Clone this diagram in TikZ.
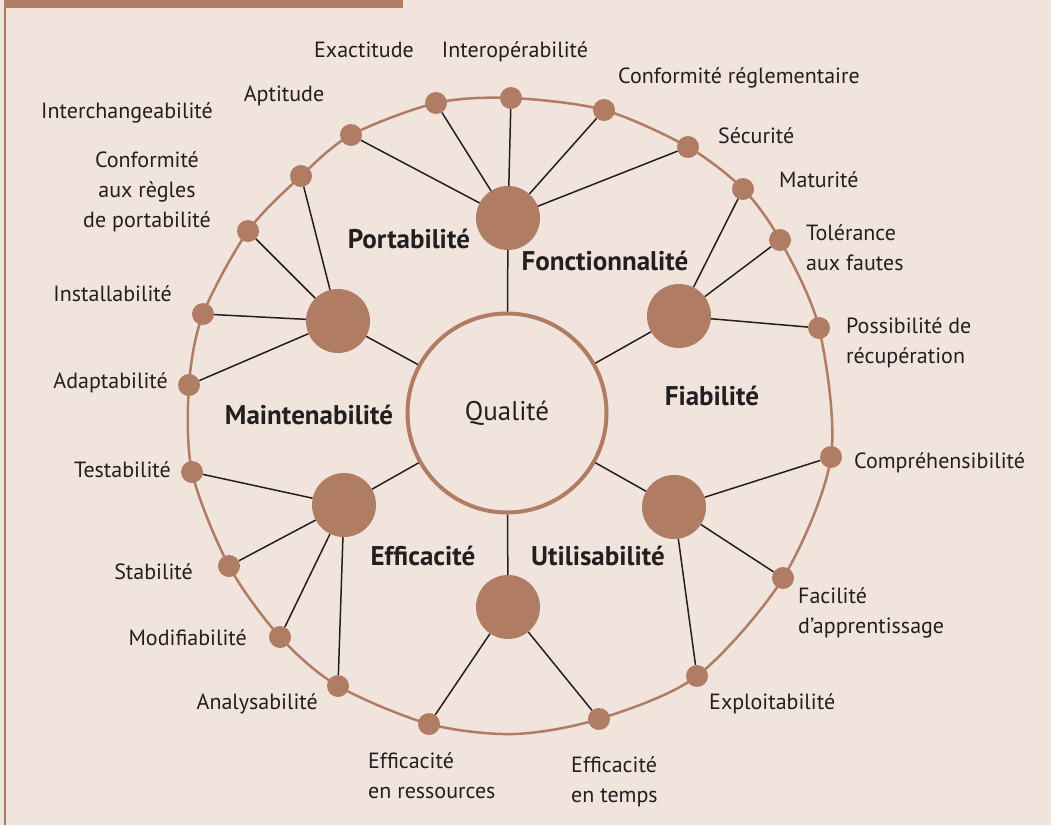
\documentclass[tikz,border=0pt]{standalone}
\usepackage{fontspec}
\setmainfont{PT Sans}
\definecolor{fond}{RGB}{241,228,221}
\definecolor{brun}{RGB}{176,124,99}
\definecolor{encre}{RGB}{35,31,32}

\begin{document}
\begin{tikzpicture}[x=1pt,y=-1pt,
	pastille/.style={circle,fill=brun,minimum size=22pt,inner sep=0pt},
	noyau/.style={circle,fill=brun,minimum size=64pt,inner sep=0pt},
	lien/.style={line width=1.5pt,color=encre},
	etiq/.style={text=encre,inner sep=0pt,font=\fontsize{22}{30}\selectfont},
	axe/.style={text=encre,inner sep=0pt,font=\fontsize{27}{30}\selectfont\bfseries}]
	%%%%% START %%%%%
	
	\useasboundingbox (0,0) rectangle (1051,825);
	\fill[fond] (0,0) rectangle (1051,825);
	\fill[brun] (5,0) rectangle (403,8);
	\draw[brun,line width=2pt] (5,0) -- (5,825);
	
	% points on the ring, clockwise from the top
	\foreach \n/\x/\y in {interop/511/98, confreg/604/110, secu/688/147, matur/743/189,
		toler/780/240, recup/819/328, compr/831/457, facil/783/578, exploit/697/676,
		temps/599/719, ress/429/724, analys/338/686, modif/280/637, stabil/229/566,
		testab/192/472, adapt/189/385, install/203/314, confport/248/231,
		interch/301/176, aptit/351/135, exact/436/103}
		\coordinate (\n) at (\x,\y);
	\coordinate (bas) at (514,734);
	
	\draw[brun,line width=2.5pt] plot[smooth cycle] coordinates {(interop) (confreg) (secu)
		(matur) (toler) (recup) (compr) (facil) (exploit) (temps) (bas) (ress) (analys) (modif)
		(stabil) (testab) (adapt) (install) (confport) (interch) (aptit) (exact)};
	
	\foreach \n in {interop,confreg,secu,matur,toler,recup,compr,facil,exploit,temps,
		ress,analys,modif,stabil,testab,adapt,install,confport,interch,aptit,exact}
		\node[pastille] (d-\n) at (\n) {};
	
	% the six characteristics
	\node[noyau] (fonc) at (508,218) {};
	\node[noyau] (fiab) at (679,316) {};
	\node[noyau] (util) at (674,507) {};
	\node[noyau] (effic) at (508,607) {};
	\node[noyau] (maint) at (344,505) {};
	\node[noyau] (port) at (338,321) {};
	
	\node[circle,draw=brun,line width=4pt,fill=fond,minimum size=199pt,inner sep=0pt,
		text=encre,font=\fontsize{27}{30}\selectfont] (qual) at (507,413) {Qualité};
	
	\foreach \h in {fonc,fiab,util,effic,maint,port}
		\draw[lien] (qual) -- (\h);
	
	\foreach \d in {aptit,exact,interop,confreg,secu} \draw[lien] (fonc) -- (d-\d);
	\foreach \d in {interch,confport,install,adapt} \draw[lien] (port) -- (d-\d);
	\foreach \d in {matur,toler,recup} \draw[lien] (fiab) -- (d-\d);
	\foreach \d in {compr,facil,exploit} \draw[lien] (util) -- (d-\d);
	\foreach \d in {ress,temps} \draw[lien] (effic) -- (d-\d);
	\foreach \d in {testab,stabil,modif,analys} \draw[lien] (maint) -- (d-\d);
	
	\node[axe,anchor=base] (l-port) at (409,248) {Portabilité};
	\node[axe,anchor=base] (l-fonc) at (605,270) {Fonctionnalité};
	\node[axe,anchor=base] (l-fiab) at (712,405) {Fiabilité};
	\node[axe,anchor=base] (l-maint) at (309,424) {Maintenabilité};
	\node[axe,anchor=base] (l-effic) at (423,565) {Efficacité};
	\node[axe,anchor=base] (l-util) at (598,565) {Utilisabilité};
	
	% sub-characteristics (multi-line ones sit on their last line)
	\node[etiq,anchor=base] (l-exact) at (364,57) {Exactitude};
	\node[etiq,anchor=base] (l-interop) at (515,57) {Interopérabilité};
	\node[etiq,anchor=base west] (l-confreg) at (618,83) {Conformité réglementaire};
	\node[etiq,anchor=base west] (l-secu) at (718,143) {Sécurité};
	\node[etiq,anchor=base west] (l-matur) at (779,187) {Maturité};
	\node[etiq,anchor=base west,align=left] (l-toler) at (806,270) {Tolérance\\aux fautes};
	\node[etiq,anchor=base west,align=left] (l-recup) at (846,363) {Possibilité de\\récupération};
	\node[etiq,anchor=base west] (l-compr) at (854,468) {Compréhensibilité};
	\node[etiq,anchor=base west,align=left] (l-facil) at (798,633) {Facilité\\d'apprentissage};
	\node[etiq,anchor=base west] (l-exploit) at (709,709) {Exploitabilité};
	\node[etiq,anchor=base west,align=left] (l-temps) at (571,802) {Efficacité\\en temps};
	\node[etiq,anchor=base west,align=left] (l-ress) at (368,798) {Efficacité\\en ressources};
	\node[etiq,anchor=base east] (l-analys) at (318,709) {Analysabilité};
	\node[etiq,anchor=base east] (l-modif) at (247,645) {Modifiabilité};
	\node[etiq,anchor=base east] (l-stabil) at (193,579) {Stabilité};
	\node[etiq,anchor=base east] (l-testab) at (171,477) {Testabilité};
	\node[etiq,anchor=base east] (l-adapt) at (168,388) {Adaptabilité};
	\node[etiq,anchor=base east] (l-install) at (172,301) {Installabilité};
	\node[etiq,anchor=base,align=center] (l-confport) at (147,227) {Conformité\\aux règles\\de portabilité};
	\node[etiq,anchor=base east] (l-interch) at (213,118) {Interchangeabilité};
	\node[etiq,anchor=base] (l-aptit) at (284,101) {Aptitude};
	
	%%%%% END %%%%%
\end{tikzpicture}
\end{document}
